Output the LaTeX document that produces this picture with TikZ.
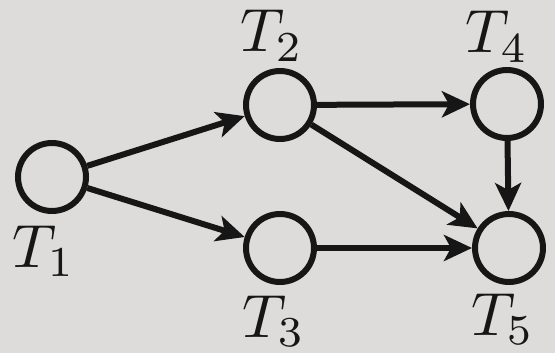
\documentclass[tikz,border=0pt]{standalone}
\usetikzlibrary{arrows.meta}
\definecolor{paper}{RGB}{222,220,218}
\definecolor{ink}{RGB}{22,22,22}
\newcommand{\biglbl}[1]{\scalebox{6.1}{$#1$}}
\begin{document}
\begin{tikzpicture}[x=1pt,y=-1pt,
  task/.style={circle,draw=ink,line width=6pt,minimum size=68pt,inner sep=0pt},
  lbl/.style={inner sep=0pt,anchor=base west,text=ink},
  conn/.style={draw=ink,line width=6pt,-{Stealth[length=28pt,width=26pt,inset=7pt]}}]
\fill[paper] (0,0) rectangle (555,353);
\useasboundingbox (0,0) rectangle (555,353);
\node[task] (t1) at (52,177) {};
\node[task] (t2) at (280,105) {};
\node[task] (t3) at (280,248) {};
\node[task] (t4) at (507,104) {};
\node[task] (t5) at (509,248) {};
\node[lbl] (l1) at (12,267) {\biglbl{T_1}};
\node[lbl] (l2) at (240,52) {\biglbl{T_2}};
\node[lbl] (l3) at (242,337) {\biglbl{T_3}};
\node[lbl] (l4) at (465,53) {\biglbl{T_4}};
\node[lbl] (l5) at (471,335) {\biglbl{T_5}};
\draw[conn] (t1) -- (t2);
\draw[conn] (t1) -- (t3);
\draw[conn] (t2) -- (t4);
\draw[conn] (t2) -- (t5);
\draw[conn] (t3) -- (t5);
\draw[conn] (t4) -- (t5);
\end{tikzpicture}
\end{document}
